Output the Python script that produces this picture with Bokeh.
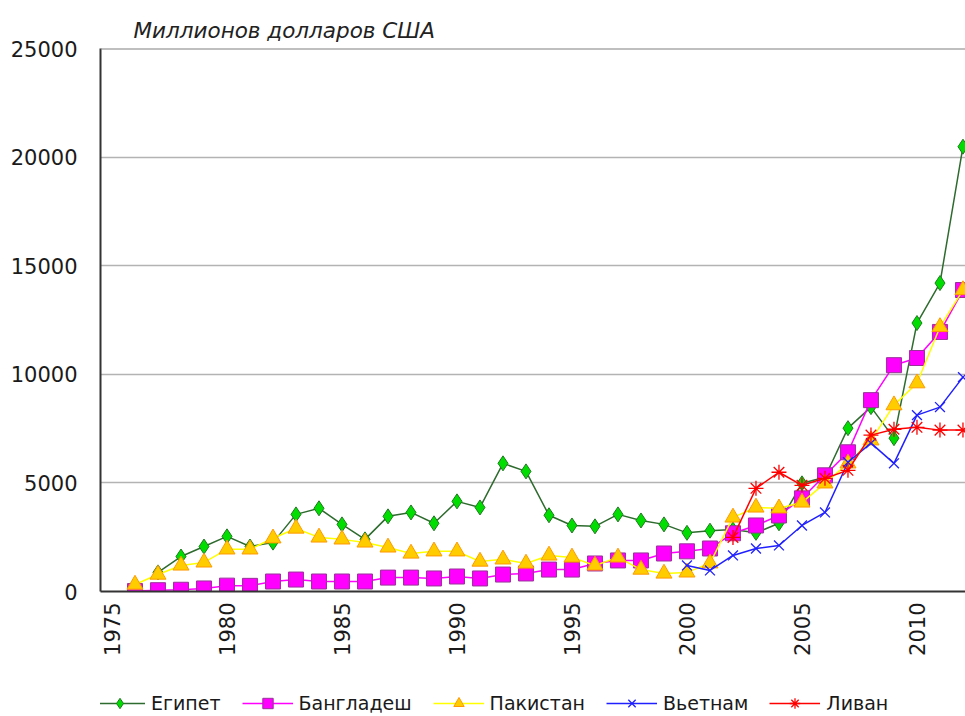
import math
import numpy as np
from bokeh.plotting import figure
from bokeh.layouts import column
from bokeh.models import (ColumnDataSource, FixedTicker, Legend, LegendItem, Span, Title, Range1d)
from bokeh.embed import file_html
from bokeh.resources import INLINE

years = list(range(1976, 2013))
NA = float("nan")

egypt = [NA, 880, 1610, 2070, 2540, 2070, 2250, 3550, 3830, 3090, 2400, 3460, 3640,
         3140, 4150, 3870, 5900, 5530, 3510, 3040, 3000, 3550, 3270, 3090, 2700, 2800,
         2850, 2700, 3140, 4980, 5260, 7520, 8490, 7060, 12360, 14200, 20480]
bangladesh = [20, 60, 80, 140, 270, 260, 460, 550, 460, 460, 460, 640, 640,
              600, 690, 600, 780, 830, 1010, 1010, 1290, 1430, 1430, 1750, 1850, 1980,
              2680, 3040, 3500, 4290, 5350, 6410, 8810, 10420, 10750, 11950, 13880]
pakistan = [320, 780, 1200, 1340, 1940, 1940, 2450, 2900, 2490, 2400, 2260, 2030, 1750,
            1850, 1850, 1380, 1480, 1290, 1660, 1570, 1200, 1570, 1010, 830, 880, 1300,
            3410, 3870, 3830, 4100, 4980, 5900, 6960, 8580, 9590, 12180, 13880]
vietnam = [NA] * 24 + [1200, 970, 1660, 1980, 2120, 3040, 3640, 5950, 6830, 5900, 8120, 8490, 9870]
lebanon = [NA] * 26 + [2490, 4750, 5490, 4890, 5210, 5580, 7200, 7470, 7560, 7430, 7430]

x_ticks = [1975, 1980, 1985, 1990, 1995, 2000, 2005, 2010]
y_ticks = [0, 5000, 10000, 15000, 20000, 25000]

series = [
    ("Египет", egypt, "#2e6b2e", "diamond", "#00dd00", "#1f7a1f", 15),
    ("Бангладеш", bangladesh, "#ff00ff", "square", "#ff00ff", "#993399", 15),
    ("Пакистан", pakistan, "#ffff00", "triangle", "#ffcc00", "#ff9900", 16),
    ("Вьетнам", vietnam, "#2020ff", "x", "#2020ff", "#2020ff", 14),
    ("Ливан", lebanon, "#ff0000", "asterisk", "#ff0000", "#ff0000", 15),
]

FONT = "DejaVu Sans"

p = figure(width=965, height=680, output_backend="svg", toolbar_location=None,
           x_range=Range1d(1974.5, 2012.11), y_range=Range1d(0, 25000),
           min_border_left=100, min_border_right=0, min_border_top=48, min_border_bottom=89)
p.title = Title(text="Миллионов долларов США", align="left", offset=33,
                text_font=FONT, text_font_size="21.5px", text_font_style="italic",
                text_color="#222222", standoff=11)
p.outline_line_color = None
p.background_fill_color = "white"
p.border_fill_color = "white"

p.xgrid.visible = False
p.ygrid.ticker = FixedTicker(ticks=y_ticks)
p.ygrid.grid_line_color = "#b3b3b3"
p.ygrid.grid_line_width = 1.5

p.xaxis.ticker = FixedTicker(ticks=x_ticks)
p.yaxis.ticker = FixedTicker(ticks=y_ticks)
for ax in (p.xaxis, p.yaxis):
    ax.major_tick_out = 0
    ax.major_tick_in = 0
    ax.minor_tick_out = 0
    ax.minor_tick_in = 0
    ax.axis_line_color = "#333333"
    ax.axis_line_width = 2
    ax.major_label_text_font = FONT
    ax.major_label_text_font_size = "21px"
    ax.major_label_text_color = "#1a1a1a"
p.yaxis.major_label_standoff = 23
p.xaxis.major_label_standoff = 11
p.xaxis.major_label_orientation = math.pi / 2

p.add_layout(Span(location=25000, dimension="width", line_color="#808080", line_width=2))

# legend lives in a thin figure under the chart
lf = figure(width=965, height=36, output_backend="svg", toolbar_location=None,
            x_range=Range1d(0, 1), y_range=Range1d(0, 1),
            x_axis_type=None, y_axis_type=None,
            min_border_left=0, min_border_right=0, min_border_top=0, min_border_bottom=0)
lf.outline_line_color = None
lf.xgrid.visible = False
lf.ygrid.visible = False

items = []
for name, vals, lc, marker, fill, outline, size in series:
    src = ColumnDataSource(dict(x=years, y=np.array(vals, dtype=float)))
    p.line("x", "y", source=src, line_color=lc, line_width=1.5)
    blank = ColumnDataSource(dict(x=[NA], y=[NA]))
    r1 = lf.line("x", "y", source=blank, line_color=lc, line_width=1.5)
    if marker in ("x", "asterisk"):
        kw = dict(marker=marker, size=size, line_color=outline, line_width=1.3)
    else:
        kw = dict(marker=marker, size=size, fill_color=fill, line_color=outline, line_width=1)
    p.scatter("x", "y", source=src, **kw)
    r2 = lf.scatter("x", "y", source=blank, **kw)
    items.append(LegendItem(label=name, renderers=[r1, r2]))

legend = Legend(items=items, orientation="horizontal", location=(-6, 0),
                glyph_width=51, glyph_height=26, label_height=26, label_standoff=6, spacing=21,
                padding=0, margin=0, border_line_color=None, background_fill_alpha=0,
                label_text_font=FONT, label_text_font_size="19px", label_text_color="#1a1a1a")
lf.add_layout(legend)

layout = column(p, lf, spacing=0)
open("out.html", "w").write(file_html(layout, INLINE))
